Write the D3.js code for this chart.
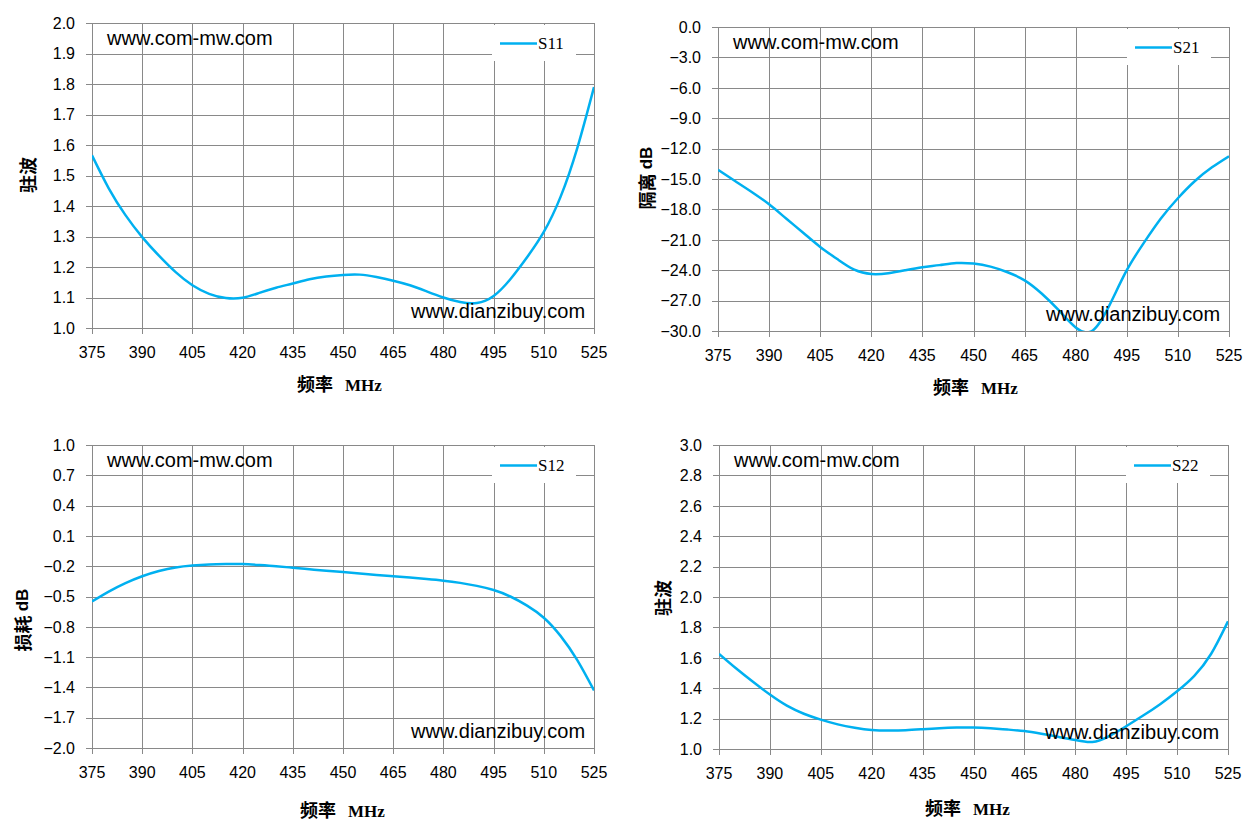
<!DOCTYPE html>
<html>
<head>
<meta charset="utf-8">
<script src="https://cdn.jsdelivr.net/npm/d3@7/dist/d3.min.js"></script>
<style>
body{margin:0;background:#fff;}
svg{display:block;font-family:"Liberation Sans",Arial,sans-serif;}
.grid line{stroke:#898989;stroke-width:1;shape-rendering:crispEdges;}
.tick-label{font-size:16px;fill:#000;}
.mark{font-size:20px;fill:#000;}
.legend-text{font-family:"Liberation Serif","Times New Roman",serif;font-size:17px;}
.title{font-family:"Noto Sans CJK SC",sans-serif;font-weight:bold;font-size:18px;}
.title .lat{font-family:"Liberation Serif",serif;font-weight:bold;font-size:17px;}
.title .dB{font-family:"Liberation Sans",sans-serif;font-weight:bold;font-size:17px;}
</style>
</head>
<body>
<div id="chart"></div>
<script>
/* data */
var freqs = [375,380,385,390,395,400,405,410,415,420,425,430,435,440,445,450,455,460,465,470,475,480,485,490,495,500,505,510,515,520,525];

var s11 = [1.566,1.458,1.370,1.298,1.237,1.183,1.140,1.112,1.098,1.099,1.115,1.132,1.146,1.160,1.169,1.174,1.175,1.167,1.155,1.140,1.120,1.100,1.085,1.082,1.105,1.160,1.232,1.315,1.430,1.590,1.790];
var s21 = [-14.1,-15.2,-16.3,-17.5,-18.9,-20.3,-21.7,-22.9,-23.95,-24.38,-24.3,-24.0,-23.7,-23.5,-23.3,-23.35,-23.65,-24.2,-25.0,-26.3,-27.95,-29.65,-29.95,-27.4,-24.0,-21.3,-18.9,-16.9,-15.2,-13.85,-12.75];
var s12 = [-0.55,-0.452,-0.368,-0.30,-0.248,-0.212,-0.193,-0.183,-0.179,-0.179,-0.188,-0.20,-0.215,-0.23,-0.245,-0.258,-0.272,-0.287,-0.30,-0.313,-0.327,-0.343,-0.365,-0.395,-0.436,-0.50,-0.59,-0.71,-0.89,-1.13,-1.43];
var s22 = [1.626,1.531,1.442,1.358,1.285,1.232,1.193,1.162,1.140,1.125,1.121,1.123,1.130,1.137,1.141,1.141,1.136,1.128,1.118,1.100,1.080,1.059,1.046,1.085,1.150,1.220,1.295,1.380,1.480,1.625,1.840];

var xTicks = [375,390,405,420,435,450,465,480,495,510,525];
var s11Ticks = [1.0,1.1,1.2,1.3,1.4,1.5,1.6,1.7,1.8,1.9,2.0];
var s21Ticks = [-30,-27,-24,-21,-18,-15,-12,-9,-6,-3,0];
var s12Ticks = [-2.0,-1.7,-1.4,-1.1,-0.8,-0.5,-0.2,0.1,0.4,0.7,1.0];
var s22Ticks = [1.0,1.2,1.4,1.6,1.8,2.0,2.2,2.4,2.6,2.8,3.0];

var seriesNames = ["S11","S21","S12","S22"];
var yTitles = [["驻波",""],["隔离 ","dB"],["损耗 ","dB"],["驻波",""]];
var xTitle = ["频率","MHz"];
var marks = ["www.com-mw.com","www.dianzibuy.com"];

/* layout of the four panels */
var panels = [
	{name:seriesNames[0], vals:s11, ticks:s11Ticks, title:yTitles[0], left:92,  right:594,  top:23,  bottom:328, ty:[27,175],  tx:[297,391]},
	{name:seriesNames[1], vals:s21, ticks:s21Ticks, title:yTitles[1], left:718, right:1229, top:27,  bottom:331, ty:[646,178], tx:[933,394]},
	{name:seriesNames[2], vals:s12, ticks:s12Ticks, title:yTitles[2], left:92,  right:594,  top:445, bottom:748, ty:[22,620],  tx:[300,817]},
	{name:seriesNames[3], vals:s22, ticks:s22Ticks, title:yTitles[3], left:719, right:1228, top:445, bottom:749, ty:[662,598], tx:[925,815]}
];

var width = 1257, height = 832;
var svg = d3.select("#chart").append("svg")
	.attr("width", width).attr("height", height);

var fmt = d3.format(".1f");

panels.forEach(function(p, i){
	var x = d3.scaleLinear().domain([375,525]).range([p.left,p.right]);
	var y = d3.scaleLinear().domain([p.ticks[0], p.ticks[p.ticks.length-1]]).range([p.bottom,p.top]);
	var g = svg.append("g");

	// grid + tick marks
	var grid = g.append("g").attr("class","grid");
	grid.selectAll("line.v").data(xTicks).enter().append("line")
		.attr("x1", function(d){ return Math.round(x(d))+0.5; })
		.attr("x2", function(d){ return Math.round(x(d))+0.5; })
		.attr("y1", p.top).attr("y2", p.bottom+6);
	grid.selectAll("line.h").data(p.ticks).enter().append("line")
		.attr("y1", function(d){ return Math.round(y(d))+0.5; })
		.attr("y2", function(d){ return Math.round(y(d))+0.5; })
		.attr("x1", p.left-6).attr("x2", p.right);

	// tick labels
	g.selectAll("text.xt").data(xTicks).enter().append("text")
		.attr("class","tick-label")
		.attr("x", function(d){ return x(d); })
		.attr("y", p.bottom+30)
		.attr("text-anchor","middle")
		.text(function(d){ return d; });
	g.selectAll("text.yt").data(p.ticks).enter().append("text")
		.attr("class","tick-label")
		.attr("x", p.left-17)
		.attr("y", function(d){ return y(d); })
		.attr("dy","0.36em")
		.attr("text-anchor","end")
		.text(function(d){ return fmt(d); });

	// curve (smoothed, clipped to the plot)
	g.append("clipPath").attr("id","clip"+i)
		.append("rect").attr("x",p.left).attr("y",p.top-2)
		.attr("width",p.right-p.left).attr("height",p.bottom-p.top+2);
	var line = d3.line()
		.x(function(d){ return x(d[0]); })
		.y(function(d){ return y(d[1]); })
		.curve(d3.curveNatural);
	g.append("path")
		.datum(d3.zip(freqs, p.vals))
		.attr("clip-path","url(#clip"+i+")")
		.attr("d", line)
		.attr("fill","none")
		.attr("stroke","#00b0f0")
		.attr("stroke-width",2.5);

	// watermarks
	g.append("text").attr("class","mark")
		.attr("x", p.left+15).attr("y", p.top+22).text(marks[0]);
	g.append("text").attr("class","mark")
		.attr("x", p.right-183).attr("y", p.bottom-10).text(marks[1]);

	// legend
	g.append("rect")
		.attr("x", p.right-102).attr("y", p.top+2)
		.attr("width", 84).attr("height", 36)
		.attr("fill","#fff");
	g.append("line")
		.attr("x1", p.right-94).attr("x2", p.right-57)
		.attr("y1", p.top+20.5).attr("y2", p.top+20.5)
		.attr("stroke","#00b0f0").attr("stroke-width",2.5);
	g.append("text").attr("class","legend-text")
		.attr("x", p.right-56).attr("y", p.top+26).text(p.name);

	// axis titles
	var yt = g.append("text").attr("class","title")
		.attr("transform","translate("+p.ty[0]+","+p.ty[1]+") rotate(-90)")
		.attr("text-anchor","middle")
		.attr("dominant-baseline","central");
	yt.append("tspan").text(p.title[0]);
	if(p.title[1]) yt.append("tspan").attr("class","dB").text(p.title[1]);

	var xt = g.append("text").attr("class","title")
		.attr("x", p.tx[0]).attr("y", p.tx[1]);
	xt.append("tspan").text(xTitle[0]);
	xt.append("tspan").attr("class","lat").attr("dx", 12).text(xTitle[1]);
});
</script>
</body>
</html>
